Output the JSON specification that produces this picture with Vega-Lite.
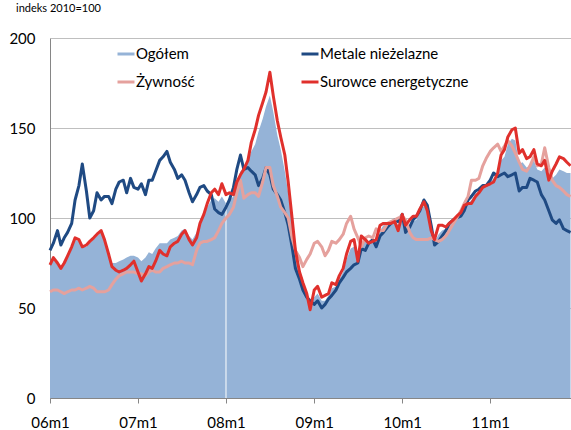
{
  "$schema": "https://vega.github.io/schema/vega-lite/v6.json",
  "width": 521,
  "height": 360,
  "autosize": {"type": "none"},
  "padding": {"left": 50, "top": 38, "right": 0, "bottom": 32},
  "background": "white",
  "config": {"view": {"stroke": null}, "font": "Lato"},
  "title": {"text": "indeks 2010=100", "anchor": "start", "frame": "group", "fontSize": 11, "fontWeight": "normal", "font": "Lato", "color": "#000000", "dx": -34, "offset": 17},
  "data": {"values": [
    {"d":"2006-01-01","Ogółem":73,"Metale nieżelazne":82,"Żywność":59,"Surowce energetyczne":74},
    {"d":"2006-01-15","Ogółem":77,"Metale nieżelazne":86,"Żywność":60,"Surowce energetyczne":78},
    {"d":"2006-02-01","Ogółem":74,"Metale nieżelazne":93,"Żywność":60,"Surowce energetyczne":75},
    {"d":"2006-02-15","Ogółem":71,"Metale nieżelazne":85,"Żywność":59,"Surowce energetyczne":72},
    {"d":"2006-03-01","Ogółem":74,"Metale nieżelazne":89,"Żywność":58,"Surowce energetyczne":75},
    {"d":"2006-03-15","Ogółem":78,"Metale nieżelazne":92,"Żywność":59,"Surowce energetyczne":79},
    {"d":"2006-04-01","Ogółem":83,"Metale nieżelazne":97,"Żywność":60,"Surowce energetyczne":84},
    {"d":"2006-04-15","Ogółem":88,"Metale nieżelazne":110,"Żywność":60,"Surowce energetyczne":89},
    {"d":"2006-05-01","Ogółem":87,"Metale nieżelazne":118,"Żywność":61,"Surowce energetyczne":88},
    {"d":"2006-05-15","Ogółem":84,"Metale nieżelazne":130,"Żywność":60,"Surowce energetyczne":84},
    {"d":"2006-06-01","Ogółem":84,"Metale nieżelazne":115,"Żywność":61,"Surowce energetyczne":85},
    {"d":"2006-06-15","Ogółem":86,"Metale nieżelazne":100,"Żywność":62,"Surowce energetyczne":87},
    {"d":"2006-07-01","Ogółem":88,"Metale nieżelazne":104,"Żywność":61,"Surowce energetyczne":89},
    {"d":"2006-07-15","Ogółem":90,"Metale nieżelazne":114,"Żywność":59,"Surowce energetyczne":91},
    {"d":"2006-08-01","Ogółem":92,"Metale nieżelazne":110,"Żywność":59,"Surowce energetyczne":93},
    {"d":"2006-08-15","Ogółem":87,"Metale nieżelazne":112,"Żywność":59,"Surowce energetyczne":88},
    {"d":"2006-09-01","Ogółem":79,"Metale nieżelazne":112,"Żywność":60,"Surowce energetyczne":80},
    {"d":"2006-09-15","Ogółem":75,"Metale nieżelazne":108,"Żywność":63,"Surowce energetyczne":73},
    {"d":"2006-10-01","Ogółem":75,"Metale nieżelazne":116,"Żywność":66,"Surowce energetyczne":71},
    {"d":"2006-10-15","Ogółem":76,"Metale nieżelazne":120,"Żywność":68,"Surowce energetyczne":70},
    {"d":"2006-11-01","Ogółem":77,"Metale nieżelazne":121,"Żywność":69,"Surowce energetyczne":71},
    {"d":"2006-11-15","Ogółem":78,"Metale nieżelazne":114,"Żywność":70,"Surowce energetyczne":72},
    {"d":"2006-12-01","Ogółem":79,"Metale nieżelazne":122,"Żywność":70,"Surowce energetyczne":74},
    {"d":"2006-12-15","Ogółem":79,"Metale nieżelazne":117,"Żywność":70,"Surowce energetyczne":76},
    {"d":"2007-01-01","Ogółem":78,"Metale nieżelazne":116,"Żywność":69,"Surowce energetyczne":70},
    {"d":"2007-01-15","Ogółem":76,"Metale nieżelazne":119,"Żywność":69,"Surowce energetyczne":65},
    {"d":"2007-02-01","Ogółem":78,"Metale nieżelazne":113,"Żywność":68,"Surowce energetyczne":69},
    {"d":"2007-02-15","Ogółem":81,"Metale nieżelazne":121,"Żywność":70,"Surowce energetyczne":73},
    {"d":"2007-03-01","Ogółem":80,"Metale nieżelazne":121,"Żywność":71,"Surowce energetyczne":72},
    {"d":"2007-03-15","Ogółem":83,"Metale nieżelazne":126,"Żywność":70,"Surowce energetyczne":76},
    {"d":"2007-04-01","Ogółem":86,"Metale nieżelazne":132,"Żywność":70,"Surowce energetyczne":82},
    {"d":"2007-04-15","Ogółem":86,"Metale nieżelazne":134,"Żywność":72,"Surowce energetyczne":80},
    {"d":"2007-05-01","Ogółem":86,"Metale nieżelazne":137,"Żywność":73,"Surowce energetyczne":79},
    {"d":"2007-05-15","Ogółem":88,"Metale nieżelazne":131,"Żywność":74,"Surowce energetyczne":84},
    {"d":"2007-06-01","Ogółem":89,"Metale nieżelazne":127,"Żywność":75,"Surowce energetyczne":86},
    {"d":"2007-06-15","Ogółem":90,"Metale nieżelazne":122,"Żywność":75,"Surowce energetyczne":87},
    {"d":"2007-07-01","Ogółem":93,"Metale nieżelazne":124,"Żywność":76,"Surowce energetyczne":91},
    {"d":"2007-07-15","Ogółem":94,"Metale nieżelazne":121,"Żywność":75,"Surowce energetyczne":93},
    {"d":"2007-08-01","Ogółem":90,"Metale nieżelazne":114,"Żywność":75,"Surowce energetyczne":88},
    {"d":"2007-08-15","Ogółem":88,"Metale nieżelazne":109,"Żywność":74,"Surowce energetyczne":85},
    {"d":"2007-09-01","Ogółem":92,"Metale nieżelazne":113,"Żywność":82,"Surowce energetyczne":89},
    {"d":"2007-09-15","Ogółem":98,"Metale nieżelazne":117,"Żywność":86,"Surowce energetyczne":97},
    {"d":"2007-10-01","Ogółem":102,"Metale nieżelazne":118,"Żywność":87,"Surowce energetyczne":102},
    {"d":"2007-10-15","Ogółem":106,"Metale nieżelazne":115,"Żywność":87,"Surowce energetyczne":108},
    {"d":"2007-11-01","Ogółem":110,"Metale nieżelazne":113,"Żywność":88,"Surowce energetyczne":114},
    {"d":"2007-11-15","Ogółem":111,"Metale nieżelazne":105,"Żywność":89,"Surowce energetyczne":116},
    {"d":"2007-12-01","Ogółem":109,"Metale nieżelazne":103,"Żywność":93,"Surowce energetyczne":113},
    {"d":"2007-12-15","Ogółem":112,"Metale nieżelazne":102,"Żywność":97,"Surowce energetyczne":119},
    {"d":"2008-01-01","Ogółem":108,"Metale nieżelazne":106,"Żywność":100,"Surowce energetyczne":113},
    {"d":"2008-01-15","Ogółem":110,"Metale nieżelazne":110,"Żywność":102,"Surowce energetyczne":114},
    {"d":"2008-02-01","Ogółem":112,"Metale nieżelazne":117,"Żywność":106,"Surowce energetyczne":113},
    {"d":"2008-02-15","Ogółem":120,"Metale nieżelazne":127,"Żywność":114,"Surowce energetyczne":120},
    {"d":"2008-03-01","Ogółem":126,"Metale nieżelazne":135,"Żywność":121,"Surowce energetyczne":124},
    {"d":"2008-03-15","Ogółem":128,"Metale nieżelazne":127,"Żywność":111,"Surowce energetyczne":127},
    {"d":"2008-04-01","Ogółem":132,"Metale nieżelazne":128,"Żywność":113,"Surowce energetyczne":132},
    {"d":"2008-04-15","Ogółem":137,"Metale nieżelazne":126,"Żywność":114,"Surowce energetyczne":142},
    {"d":"2008-05-01","Ogółem":141,"Metale nieżelazne":124,"Żywność":114,"Surowce energetyczne":149},
    {"d":"2008-05-15","Ogółem":148,"Metale nieżelazne":118,"Żywność":112,"Surowce energetyczne":157},
    {"d":"2008-06-01","Ogółem":155,"Metale nieżelazne":122,"Żywność":120,"Surowce energetyczne":164},
    {"d":"2008-06-15","Ogółem":162,"Metale nieżelazne":128,"Żywność":128,"Surowce energetyczne":170},
    {"d":"2008-07-01","Ogółem":168,"Metale nieżelazne":124,"Żywność":128,"Surowce energetyczne":181},
    {"d":"2008-07-15","Ogółem":159,"Metale nieżelazne":116,"Żywność":118,"Surowce energetyczne":168},
    {"d":"2008-08-01","Ogółem":146,"Metale nieżelazne":113,"Żywność":112,"Surowce energetyczne":154},
    {"d":"2008-08-15","Ogółem":138,"Metale nieżelazne":110,"Żywność":106,"Surowce energetyczne":145},
    {"d":"2008-09-01","Ogółem":126,"Metale nieżelazne":103,"Żywność":103,"Surowce energetyczne":135},
    {"d":"2008-09-15","Ogółem":114,"Metale nieżelazne":96,"Żywność":100,"Surowce energetyczne":120},
    {"d":"2008-10-01","Ogółem":97,"Metale nieżelazne":84,"Żywność":89,"Surowce energetyczne":100},
    {"d":"2008-10-15","Ogółem":80,"Metale nieżelazne":72,"Żywność":82,"Surowce energetyczne":82},
    {"d":"2008-11-01","Ogółem":70,"Metale nieżelazne":66,"Żywność":78,"Surowce energetyczne":70},
    {"d":"2008-11-15","Ogółem":64,"Metale nieżelazne":60,"Żywność":73,"Surowce energetyczne":64},
    {"d":"2008-12-01","Ogółem":59,"Metale nieżelazne":56,"Żywność":77,"Surowce energetyczne":58},
    {"d":"2008-12-15","Ogółem":53,"Metale nieżelazne":54,"Żywność":80,"Surowce energetyczne":49},
    {"d":"2009-01-01","Ogółem":56,"Metale nieżelazne":52,"Żywność":86,"Surowce energetyczne":60},
    {"d":"2009-01-15","Ogółem":58,"Metale nieżelazne":54,"Żywność":87,"Surowce energetyczne":62},
    {"d":"2009-02-01","Ogółem":54,"Metale nieżelazne":50,"Żywność":84,"Surowce energetyczne":56},
    {"d":"2009-02-15","Ogółem":54,"Metale nieżelazne":52,"Żywność":79,"Surowce energetyczne":57},
    {"d":"2009-03-01","Ogółem":57,"Metale nieżelazne":55,"Żywność":82,"Surowce energetyczne":58},
    {"d":"2009-03-15","Ogółem":61,"Metale nieżelazne":57,"Żywność":87,"Surowce energetyczne":64},
    {"d":"2009-04-01","Ogółem":62,"Metale nieżelazne":60,"Żywność":86,"Surowce energetyczne":63},
    {"d":"2009-04-15","Ogółem":66,"Metale nieżelazne":64,"Żywność":88,"Surowce energetyczne":68},
    {"d":"2009-05-01","Ogółem":70,"Metale nieżelazne":67,"Żywność":91,"Surowce energetyczne":72},
    {"d":"2009-05-15","Ogółem":77,"Metale nieżelazne":70,"Żywność":97,"Surowce energetyczne":80},
    {"d":"2009-06-01","Ogółem":83,"Metale nieżelazne":72,"Żywność":101,"Surowce energetyczne":87},
    {"d":"2009-06-15","Ogółem":84,"Metale nieżelazne":74,"Żywność":94,"Surowce energetyczne":88},
    {"d":"2009-07-01","Ogółem":77,"Metale nieżelazne":75,"Żywność":89,"Surowce energetyczne":76},
    {"d":"2009-07-15","Ogółem":87,"Metale nieżelazne":83,"Żywność":84,"Surowce energetyczne":90},
    {"d":"2009-08-01","Ogółem":87,"Metale nieżelazne":82,"Żywność":89,"Surowce energetyczne":88},
    {"d":"2009-08-15","Ogółem":87,"Metale nieżelazne":86,"Żywność":90,"Surowce energetyczne":86},
    {"d":"2009-09-01","Ogółem":88,"Metale nieżelazne":88,"Żywność":89,"Surowce energetyczne":87},
    {"d":"2009-09-15","Ogółem":87,"Metale nieżelazne":84,"Żywność":94,"Surowce energetyczne":88},
    {"d":"2009-10-01","Ogółem":93,"Metale nieżelazne":90,"Żywność":93,"Surowce energetyczne":96},
    {"d":"2009-10-15","Ogółem":96,"Metale nieżelazne":92,"Żywność":93,"Surowce energetyczne":97},
    {"d":"2009-11-01","Ogółem":97,"Metale nieżelazne":95,"Żywność":97,"Surowce energetyczne":97},
    {"d":"2009-11-15","Ogółem":98,"Metale nieżelazne":97,"Żywność":98,"Surowce energetyczne":97},
    {"d":"2009-12-01","Ogółem":99,"Metale nieżelazne":99,"Żywność":99,"Surowce energetyczne":98},
    {"d":"2009-12-15","Ogółem":96,"Metale nieżelazne":98,"Żywność":100,"Surowce energetyczne":93},
    {"d":"2010-01-01","Ogółem":102,"Metale nieżelazne":102,"Żywność":101,"Surowce energetyczne":102},
    {"d":"2010-01-15","Ogółem":95,"Metale nieżelazne":92,"Żywność":99,"Surowce energetyczne":96},
    {"d":"2010-02-01","Ogółem":96,"Metale nieżelazne":95,"Żywność":92,"Surowce energetyczne":99},
    {"d":"2010-02-15","Ogółem":98,"Metale nieżelazne":99,"Żywność":89,"Surowce energetyczne":101},
    {"d":"2010-03-01","Ogółem":99,"Metale nieżelazne":101,"Żywność":88,"Surowce energetyczne":101},
    {"d":"2010-03-15","Ogółem":103,"Metale nieżelazne":104,"Żywność":88,"Surowce energetyczne":105},
    {"d":"2010-04-01","Ogółem":107,"Metale nieżelazne":110,"Żywność":88,"Surowce energetyczne":109},
    {"d":"2010-04-15","Ogółem":104,"Metale nieżelazne":107,"Żywność":88,"Surowce energetyczne":104},
    {"d":"2010-05-01","Ogółem":93,"Metale nieżelazne":96,"Żywność":89,"Surowce energetyczne":93},
    {"d":"2010-05-15","Ogółem":87,"Metale nieżelazne":85,"Żywność":88,"Surowce energetyczne":88},
    {"d":"2010-06-01","Ogółem":91,"Metale nieżelazne":87,"Żywność":87,"Surowce energetyczne":96},
    {"d":"2010-06-15","Ogółem":93,"Metale nieżelazne":90,"Żywność":88,"Surowce energetyczne":96},
    {"d":"2010-07-01","Ogółem":94,"Metale nieżelazne":93,"Żywność":90,"Surowce energetyczne":95},
    {"d":"2010-07-15","Ogółem":96,"Metale nieżelazne":97,"Żywność":93,"Surowce energetyczne":97},
    {"d":"2010-08-01","Ogółem":99,"Metale nieżelazne":99,"Żywność":97,"Surowce energetyczne":99},
    {"d":"2010-08-15","Ogółem":100,"Metale nieżelazne":100,"Żywność":100,"Surowce energetyczne":101},
    {"d":"2010-09-01","Ogółem":103,"Metale nieżelazne":101,"Żywność":104,"Surowce energetyczne":103},
    {"d":"2010-09-15","Ogółem":106,"Metale nieżelazne":104,"Żywność":108,"Surowce energetyczne":107},
    {"d":"2010-10-01","Ogółem":108,"Metale nieżelazne":110,"Żywność":112,"Surowce energetyczne":108},
    {"d":"2010-10-15","Ogółem":110,"Metale nieżelazne":112,"Żywność":121,"Surowce energetyczne":108},
    {"d":"2010-11-01","Ogółem":113,"Metale nieżelazne":115,"Żywność":121,"Surowce energetyczne":112},
    {"d":"2010-11-15","Ogółem":115,"Metale nieżelazne":116,"Żywność":122,"Surowce energetyczne":114},
    {"d":"2010-12-01","Ogółem":118,"Metale nieżelazne":118,"Żywność":129,"Surowce energetyczne":117},
    {"d":"2010-12-15","Ogółem":119,"Metale nieżelazne":118,"Żywność":133,"Surowce energetyczne":118},
    {"d":"2011-01-01","Ogółem":120,"Metale nieżelazne":121,"Żywność":137,"Surowce energetyczne":119},
    {"d":"2011-01-15","Ogółem":122,"Metale nieżelazne":125,"Żywność":139,"Surowce energetyczne":120},
    {"d":"2011-02-01","Ogółem":125,"Metale nieżelazne":123,"Żywność":141,"Surowce energetyczne":125},
    {"d":"2011-02-15","Ogółem":132,"Metale nieżelazne":124,"Żywność":137,"Surowce energetyczne":135},
    {"d":"2011-03-01","Ogółem":134,"Metale nieżelazne":125,"Żywność":140,"Surowce energetyczne":138},
    {"d":"2011-03-15","Ogółem":141,"Metale nieżelazne":123,"Żywność":143,"Surowce energetyczne":145},
    {"d":"2011-04-01","Ogółem":144,"Metale nieżelazne":124,"Żywność":140,"Surowce energetyczne":149},
    {"d":"2011-04-15","Ogółem":143,"Metale nieżelazne":125,"Żywność":136,"Surowce energetyczne":150},
    {"d":"2011-05-01","Ogółem":130,"Metale nieżelazne":115,"Żywność":131,"Surowce energetyczne":136},
    {"d":"2011-05-15","Ogółem":131,"Metale nieżelazne":117,"Żywność":127,"Surowce energetyczne":138},
    {"d":"2011-06-01","Ogółem":128,"Metale nieżelazne":117,"Żywność":126,"Surowce energetyczne":133},
    {"d":"2011-06-15","Ogółem":129,"Metale nieżelazne":122,"Żywność":129,"Surowce energetyczne":134},
    {"d":"2011-07-01","Ogółem":132,"Metale nieżelazne":121,"Żywność":134,"Surowce energetyczne":138},
    {"d":"2011-07-15","Ogółem":127,"Metale nieżelazne":120,"Żywność":129,"Surowce energetyczne":130},
    {"d":"2011-08-01","Ogółem":126,"Metale nieżelazne":113,"Żywność":130,"Surowce energetyczne":129},
    {"d":"2011-08-15","Ogółem":128,"Metale nieżelazne":110,"Żywność":139,"Surowce energetyczne":132},
    {"d":"2011-09-01","Ogółem":120,"Metale nieżelazne":104,"Żywność":128,"Surowce energetyczne":121},
    {"d":"2011-09-15","Ogółem":122,"Metale nieżelazne":99,"Żywność":121,"Surowce energetyczne":126},
    {"d":"2011-10-01","Ogółem":124,"Metale nieżelazne":97,"Żywność":118,"Surowce energetyczne":130},
    {"d":"2011-10-15","Ogółem":127,"Metale nieżelazne":99,"Żywność":117,"Surowce energetyczne":134},
    {"d":"2011-11-01","Ogółem":126,"Metale nieżelazne":94,"Żywność":115,"Surowce energetyczne":133},
    {"d":"2011-11-15","Ogółem":125,"Metale nieżelazne":93,"Żywność":113,"Surowce energetyczne":131},
    {"d":"2011-11-30","Ogółem":125,"Metale nieżelazne":92,"Żywność":112,"Surowce energetyczne":129}
  ]},
  "transform": [
    {"fold": ["Ogółem", "Metale nieżelazne", "Żywność", "Surowce energetyczne"], "as": ["series", "value"]}
  ],
  "encoding": {
    "x": {
      "field": "d",
      "type": "temporal",
      "scale": {"type": "utc", "domain": [{"year": 2006, "month": 1, "date": 1, "utc": true}, {"year": 2011, "month": 12, "date": 2, "utc": true}]},
      "axis": {
        "title": null,
        "values": [
          {"year": 2006, "month": 1, "date": 1, "utc": true},
          {"year": 2007, "month": 1, "date": 1, "utc": true},
          {"year": 2008, "month": 1, "date": 1, "utc": true},
          {"year": 2009, "month": 1, "date": 1, "utc": true},
          {"year": 2010, "month": 1, "date": 1, "utc": true},
          {"year": 2011, "month": 1, "date": 1, "utc": true}
        ],
        "format": "%ym1",
        "grid": false,
        "tickSize": 5,
        "tickColor": "#868686",
        "domainColor": "#868686",
        "labelFont": "Lato",
        "labelFontSize": 15,
        "labelColor": "#000000",
        "labelPadding": 12,
        "labelFlush": false
      }
    }
  },
  "layer": [
    {
      "transform": [{"filter": "datum.series === 'Ogółem'"}],
      "mark": {"type": "area", "opacity": 1},
      "encoding": {
        "y": {
          "field": "value",
          "type": "quantitative",
          "scale": {"domain": [0, 200]},
          "axis": {
            "title": null,
            "values": [0, 50, 100, 150, 200],
            "ticks": false,
            "domainColor": "#868686",
            "gridColor": "#bfbfbf",
            "labelFont": "Lato",
            "labelFontSize": 15,
            "labelColor": "#000000",
            "labelPadding": 15
          }
        },
        "color": {
          "field": "series",
          "type": "nominal",
          "scale": {
            "domain": ["Ogółem", "Metale nieżelazne", "Żywność", "Surowce energetyczne"],
            "range": ["#95b3d7", "#1f4a83", "#e5a19d", "#e0302c"]
          },
          "legend": {
            "title": null,
            "orient": "none",
            "legendX": 66,
            "legendY": 6,
            "direction": "horizontal",
            "columns": 2,
            "columnPadding": 100,
            "rowPadding": 10,
            "labelFont": "Lato",
            "labelFontSize": 15,
            "labelColor": "#000000",
            "labelOffset": 0,
            "labelLimit": 300,
            "symbolType": "stroke",
            "symbolSize": 289,
            "symbolStrokeWidth": 3,
            "encode": {
              "symbols": {
                "update": {
                  "shape": {"signal": "datum.value === 'Ogółem' ? 'M-1,-0.58H1V0.58H-1Z' : 'stroke'"},
                  "fill": {"signal": "datum.value === 'Ogółem' ? '#95b3d7' : 'transparent'"},
                  "stroke": {"signal": "datum.value === 'Ogółem' ? 'transparent' : scale('color', datum.value)"},
                  "strokeWidth": {"value": 3},
                  "opacity": {"value": 1}
                }
              }
            }
          }
        }
      }
    },
    {
      "transform": [
        {"filter": "datum.series === 'Ogółem'"},
        {"filter": {"field": "d", "equal": {"year": 2008, "month": 1, "date": 1, "utc": true}}}
      ],
      "mark": {"type": "rule", "color": "#ffffff", "strokeWidth": 1},
      "encoding": {
        "y": {"field": "value", "type": "quantitative"},
        "y2": {"datum": 0}
      }
    },
    {
      "transform": [{"filter": "datum.series !== 'Ogółem'"}],
      "mark": {"type": "line", "strokeWidth": 3, "strokeJoin": "round"},
      "encoding": {
        "y": {"field": "value", "type": "quantitative"},
        "color": {"field": "series", "type": "nominal"}
      }
    }
  ]
}
